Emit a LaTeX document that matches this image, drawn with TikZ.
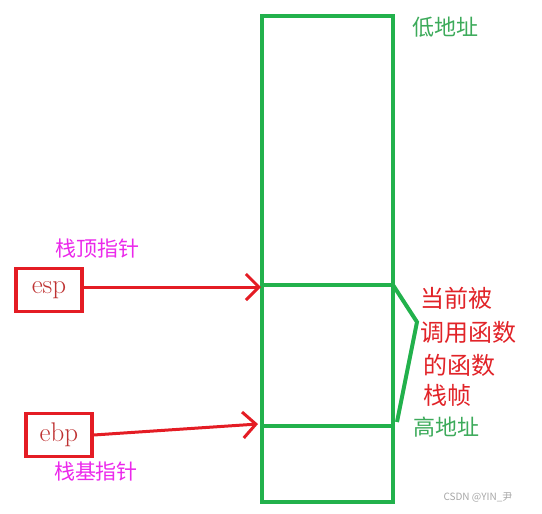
\documentclass[tikz,border=0pt]{standalone}
\usepackage{fontspec}
\newfontfamily\cjk{Noto Sans CJK SC}
\usetikzlibrary{arrows.meta}
\definecolor{stackgreen}{RGB}{34,177,76}
\definecolor{addrgreen}{RGB}{60,170,90}
\definecolor{ptrred}{RGB}{228,28,36}
\definecolor{regtext}{RGB}{190,50,50}
\definecolor{tagpink}{RGB}{235,40,235}
\definecolor{framered}{RGB}{225,35,40}
\tikzset{
  reg/.style= {draw=ptrred, line width=3.5, minimum width=66, minimum height=43, text=regtext, font=\fontsize{27}{27}\selectfont},
  tag/.style= {text=tagpink, font=\cjk\fontsize{21}{21}\selectfont},
  addr/.style= {text=addrgreen, font=\cjk\fontsize{22}{22}\selectfont, anchor=west, inner sep=0},
  frametxt/.style= {text=framered, font=\cjk\fontsize{24}{24}\selectfont, anchor=west, inner sep=0},
  ptr/.style= {draw=ptrred, line width=3, -{Straight Barb[length=13, width=26]}},
  stack/.style= {draw=stackgreen, line width=4},
}

\begin{document}
\begin{tikzpicture}[x=1pt, y=-1pt]
  \useasboundingbox (0,0) rectangle (542,514);
  % stack
  \draw [stack] (262,16) rectangle (393,502);
  \draw [stack] (262,285) -- (393,285);
  \draw [stack] (262,426) -- (393,426);
  \draw [stack] (393,285) -- (417,322) -- (397,422);
  \coordinate (sp) at (261,287);
  \coordinate (bp) at (258,424);

  \node [reg] (esp) at (49,290) {esp} ;
  \node [reg] (ebp) at (59,435) {ebp} ;
  \node [tag] (esptag) at (98,249) {栈顶指针} ;
  \node [tag] (ebptag) at (96,472) {栈基指针} ;

  \draw [ptr] (esp.east |- sp) -- (sp);
  \draw [ptr] (ebp.east) -- (bp);

  \node [addr] (low) at (412,27) {低地址} ;
  \node [addr] (high) at (413,427) {高地址} ;
  \node [frametxt] (f1) at (420,298) {当前被} ;
  \node [frametxt] (f2) at (420,332) {调用函数} ;
  \node [frametxt] (f3) at (423,365) {的函数} ;
  \node [frametxt] (f4) at (423,395) {栈帧} ;

  \node [text=gray!70, font=\cjk\fontsize{10}{10}\selectfont] (mark) at (478,497) {CSDN @YIN\_尹} ;
\end{tikzpicture}
\end{document}
